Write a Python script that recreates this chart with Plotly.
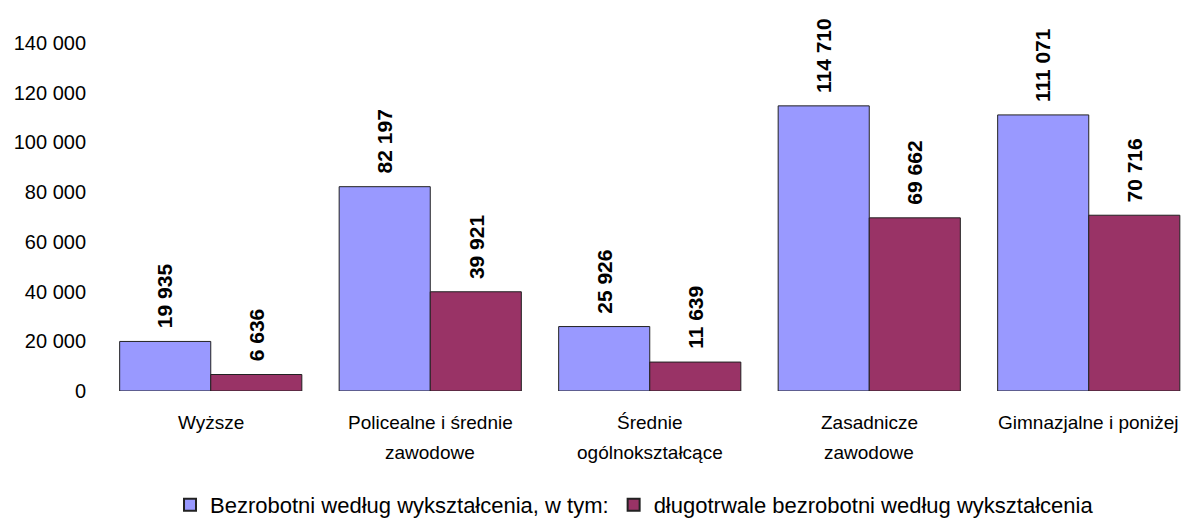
import plotly.graph_objects as go

categories = [["Wyższe"], ["Policealne i średnie", "zawodowe"], ["Średnie", "ogólnokształcące"],
              ["Zasadnicze", "zawodowe"], ["Gimnazjalne i poniżej"]]
bezrobotni = [19935, 82197, 25926, 114710, 111071]
dlugotrwale = [6636, 39921, 11639, 69662, 70716]
series_names = ["Bezrobotni według wykształcenia, w tym:",
                "długotrwale bezrobotni według wykształcenia"]
colors = ["#9999FF", "#993366"]
ytick_vals = [0, 20000, 40000, 60000, 80000, 100000, 120000, 140000]

W, H = 1186, 519
L, R, T, B = 101, 0, 10, 128
BARGAP = 0.17
FONT = "Liberation Sans, Arial, sans-serif"

# y scale: 0 at pixel 391, 140000 at pixel 43
y_max = 140000 * (H - B - T) / (391 - 43)
x_idx = list(range(len(categories)))
px_per_cat = 219.5
x_max = -0.5 + (W - L - R) / px_per_cat

def fmt(v):
    return f"{v:,}".replace(",", " ")

fig = go.Figure()
for name, vals, col in zip(series_names, [bezrobotni, dlugotrwale], colors):
    fig.add_trace(go.Bar(
        x=x_idx, y=vals, name=name,
        marker=dict(color=col, line=dict(color="#222222", width=1)),
    ))

half = (1 - BARGAP) / 4
for k, vals in enumerate([bezrobotni, dlugotrwale]):
    for i, v in enumerate(vals):
        fig.add_annotation(
            x=i + (-half if k == 0 else half), y=v, xref="x", yref="y",
            text=fmt(v), textangle=-90, showarrow=False,
            yanchor="bottom", xanchor="center", yshift=11,
            font=dict(family=FONT, size=21, color="black", weight="bold"),
        )

# category labels (two-line labels with wide line spacing)
for i, lines in enumerate(categories):
    for j, line in enumerate(lines):
        fig.add_annotation(
            x=i, y=0, xref="x", yref="paper", text=line, showarrow=False,
            xanchor="center", yanchor="middle", yshift=-(31 + 30 * j),
            font=dict(family=FONT, size=19, color="black"),
        )

fig.update_layout(
    width=W, height=H,
    margin=dict(l=L, r=R, t=T, b=B),
    paper_bgcolor="white", plot_bgcolor="white",
    barmode="group", bargap=BARGAP, bargroupgap=0,
    font=dict(family=FONT, size=20, color="black"),
    showlegend=True,
    legend=dict(orientation="h", xref="container", yref="container",
                x=0.535, xanchor="center", y=(H - 505) / H, yanchor="middle",
                font=dict(family=FONT, size=22, color="black"),
                traceorder="normal", itemsizing="constant"),
    xaxis=dict(range=[-0.5, x_max], tickmode="array", tickvals=x_idx,
               ticktext=["" for _ in x_idx],
               showgrid=False, zeroline=False, showline=False, ticks=""),
    yaxis=dict(range=[0, y_max], tickmode="array", tickvals=ytick_vals,
               ticktext=[fmt(v) for v in ytick_vals],
               showgrid=False, zeroline=False, showline=False, ticks="",
               ticklabelstandoff=14, tickfont=dict(size=20)),
)

fig.write_html("out.html", config={"displayModeBar": False},
               post_script="document.body.style.margin='0';document.body.style.overflow='hidden';")
